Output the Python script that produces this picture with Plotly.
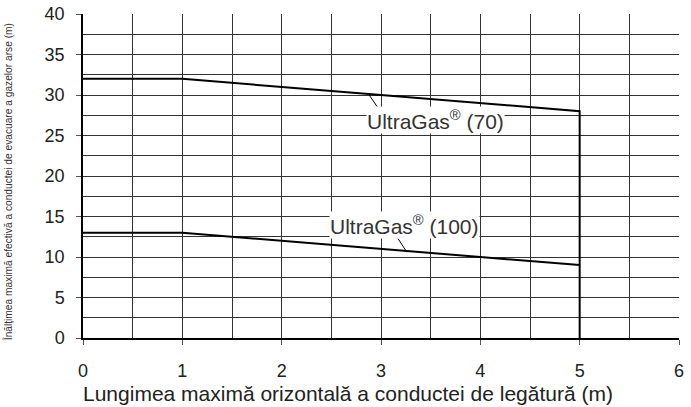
import plotly.graph_objects as go

x70 = [0, 1, 3, 5, 5]
y70 = [32, 32, 30, 28, 0]
x100 = [0, 1, 4, 5]
y100 = [13, 13, 10, 9]

label70 = "UltraGas<sup>®</sup> (70)"
label100 = "UltraGas<sup>®</sup> (100)"
xtitle = "Lungimea maximă orizontală a conductei de legătură (m)"
ytitle = "Înălțimea maximă efectivă a conductei de evacuare a gazelor arse (m)"

xticks = [0, 1, 2, 3, 4, 5, 6]
yticks = [0, 5, 10, 15, 20, 25, 30, 35, 40]

FONT = "Liberation Sans, Arial"

fig = go.Figure()
fig.add_trace(go.Scatter(x=x70, y=y70, mode="lines", line=dict(color="black", width=2), showlegend=False))
fig.add_trace(go.Scatter(x=x100, y=y100, mode="lines", line=dict(color="black", width=2), showlegend=False))

# leader lines
fig.add_trace(go.Scatter(x=[2.87, 2.97], y=[30.2, 28.4], mode="lines", line=dict(color="black", width=1), showlegend=False))
fig.add_trace(go.Scatter(x=[3.17, 3.26], y=[12.3, 10.6], mode="lines", line=dict(color="black", width=1), showlegend=False))

fig.add_annotation(x=3.55, y=26.9, text=label70, showarrow=False, bgcolor="white",
                   font=dict(family=FONT, size=21, color="#333"), borderpad=0)
fig.add_annotation(x=3.24, y=14.0, text=label100, showarrow=False, bgcolor="white",
                   font=dict(family=FONT, size=21, color="#333"), borderpad=0)

# axis titles placed as in the reference
fig.add_annotation(xref="paper", yref="paper", x=0.4446, y=-0.17, xanchor="center", yanchor="middle",
                   text=xtitle, showarrow=False, font=dict(family=FONT, size=21, color="#222"))
fig.add_annotation(xref="paper", yref="paper", x=-0.1258, y=0.481, xanchor="center", yanchor="middle",
                   textangle=-90, text=ytitle, showarrow=False, font=dict(family=FONT, size=10.2, color="#333"))

fig.update_layout(
    width=691, height=407,
    margin=dict(l=83, r=12, t=14, b=69),
    paper_bgcolor="white", plot_bgcolor="white",
    font=dict(family=FONT, color="#222"),
    xaxis=dict(range=[0, 6], tickvals=xticks, automargin=False,
               showgrid=True, gridcolor="#333", gridwidth=1,
               minor=dict(dtick=0.5, showgrid=True, gridcolor="#333", gridwidth=1),
               ticks="outside", ticklen=5, tickcolor="#555",
               showline=True, linecolor="black", linewidth=1.5, zeroline=False,
               tickfont=dict(size=18), ticklabelstandoff=11),
    yaxis=dict(range=[0, 40], tickvals=yticks, automargin=False,
               showgrid=True, gridcolor="#333", gridwidth=1,
               minor=dict(dtick=2.5, showgrid=True, gridcolor="#333", gridwidth=1),
               ticks="outside", ticklen=5, tickcolor="#555",
               showline=True, linecolor="black", linewidth=1.5, zeroline=False,
               tickfont=dict(size=18), ticklabelstandoff=8),
)

fig.write_html("out.html", post_script="document.body.style.margin='0';",
               config={"displayModeBar": False})
